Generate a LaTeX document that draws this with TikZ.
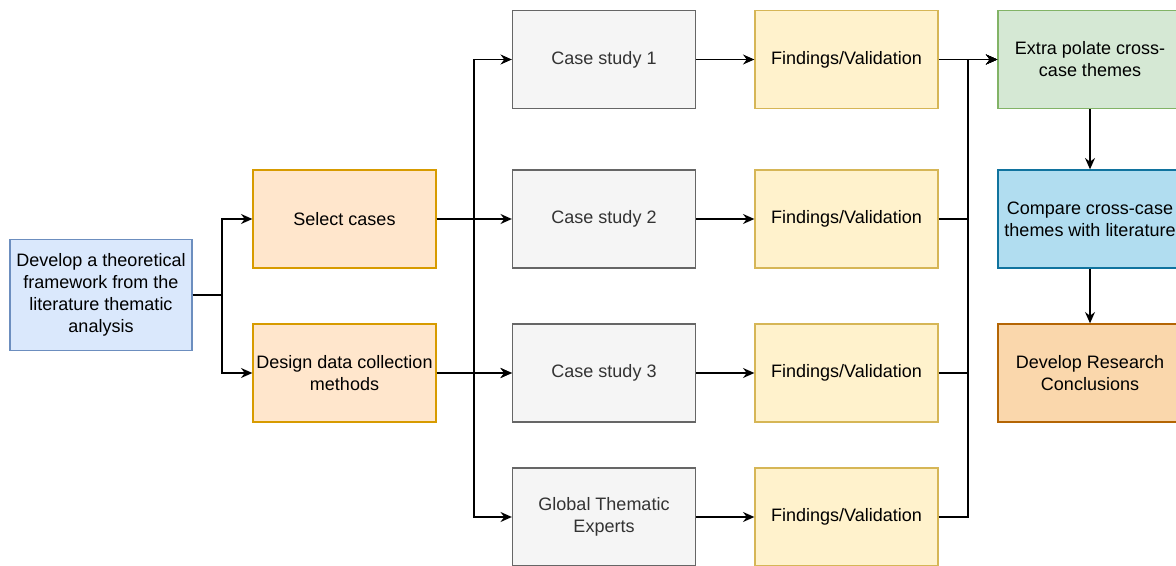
\documentclass[tikz,border=0pt]{standalone}
\usepackage{fontspec}
\setmainfont{Liberation Sans}
\usetikzlibrary{arrows.meta,calc}

\definecolor{blueFill}{HTML}{DAE8FC}\definecolor{blueLine}{HTML}{6C8EBF}
\definecolor{orFill}{HTML}{FFE6CC}\definecolor{orLine}{HTML}{D79B00}
\definecolor{grFill}{HTML}{F5F5F5}\definecolor{grLine}{HTML}{666666}\definecolor{grText}{HTML}{333333}
\definecolor{yeFill}{HTML}{FFF2CC}\definecolor{yeLine}{HTML}{D6B656}
\definecolor{gnFill}{HTML}{D5E8D4}\definecolor{gnLine}{HTML}{82B366}
\definecolor{cyFill}{HTML}{B1DDF0}\definecolor{cyLine}{HTML}{10739E}
\definecolor{dkFill}{HTML}{FAD7AC}\definecolor{dkLine}{HTML}{B46504}

\tikzset{
  box/.style={draw, line width=1pt, rectangle, align=center,
    minimum width=137.25pt, minimum height=73.5pt, inner sep=1pt,
    font=\fontsize{13.5}{16.5}\selectfont},
  theory/.style={box, fill=blueFill, draw=blueLine, minimum width=136.5pt, minimum height=83.25pt},
  prep/.style={box, fill=orFill, draw=orLine},
  casebox/.style={box, fill=grFill, draw=grLine, text=grText},
  findbox/.style={box, fill=yeFill, draw=yeLine},
  synth/.style={box, minimum width=138pt},
  arr/.style={line width=1.1pt, -{Stealth[length=8.5pt,width=7.5pt,inset=2.8pt]}},
  ln/.style={line width=1.1pt}
}

\begin{document}
\begin{tikzpicture}[x=0.75pt,y=-0.75pt]
\useasboundingbox (0,0) rectangle (1176,566);

% nodes
\node[theory] (dev) at (101,295) {Develop a theoretical\\framework from the\\literature thematic\\analysis};
\node[prep] (sel) at (344.5,219) {Select cases};
\node[prep] (des) at (344.5,373) {Design data collection\\methods};

\node[casebox] (cs1) at (604,59.5) {Case study 1};
\node[casebox] (cs2) at (604,219) {Case study 2};
\node[casebox] (cs3) at (604,373) {Case study 3};
\node[casebox] (gte) at (604,517) {Global Thematic\\Experts};

\node[findbox] (f1) at (846.5,59.5) {Findings/Validation};
\node[findbox] (f2) at (846.5,219) {Findings/Validation};
\node[findbox] (f3) at (846.5,373) {Findings/Validation};
\node[findbox] (f4) at (846.5,517) {Findings/Validation};

\node[synth, fill=gnFill, draw=gnLine] (ext) at (1090,59.5) {Extra polate cross-\\case themes};
\node[synth, fill=cyFill, draw=cyLine] (cmp) at (1090,219) {Compare cross-case\\themes with literature};
\node[synth, fill=dkFill, draw=dkLine] (con) at (1090,373) {Develop Research\\Conclusions};

% junction columns
\coordinate (j0) at (222,295);
\coordinate (bus) at (474,0);
\coordinate (fbus) at (968,0);

% theory to preparation
\draw[arr] (dev.east) -- (j0) |- (sel.west);
\draw[arr] (dev.east) -- (j0) |- (des.west);

% preparation to cases
\draw[arr] (sel.east) -- (sel.east -| bus) |- (cs1.west);
\draw[arr] (sel.east) -- (cs2.west);
\draw[arr] (sel.east) -- (sel.east -| bus) |- (cs3.west);
\draw[arr] (des.east) -- (cs3.west);
\draw[arr] (des.east) -- (des.east -| bus) |- (gte.west);

% cases to findings
\draw[arr] (cs1.east) -- (f1.west);
\draw[arr] (cs2.east) -- (f2.west);
\draw[arr] (cs3.east) -- (f3.west);
\draw[arr] (gte.east) -- (f4.west);

% findings to synthesis
\draw[arr] (f1.east) -- (ext.west);
\draw[arr] (f2.east) -- (f2.east -| fbus) |- (ext.west);
\draw[arr] (f3.east) -- (f3.east -| fbus) |- (ext.west);
\draw[arr] (f4.east) -- (f4.east -| fbus) |- (ext.west);

% synthesis chain
\draw[arr] (ext.south) -- (cmp.north);
\draw[arr] (cmp.south) -- (con.north);
\end{tikzpicture}
\end{document}
